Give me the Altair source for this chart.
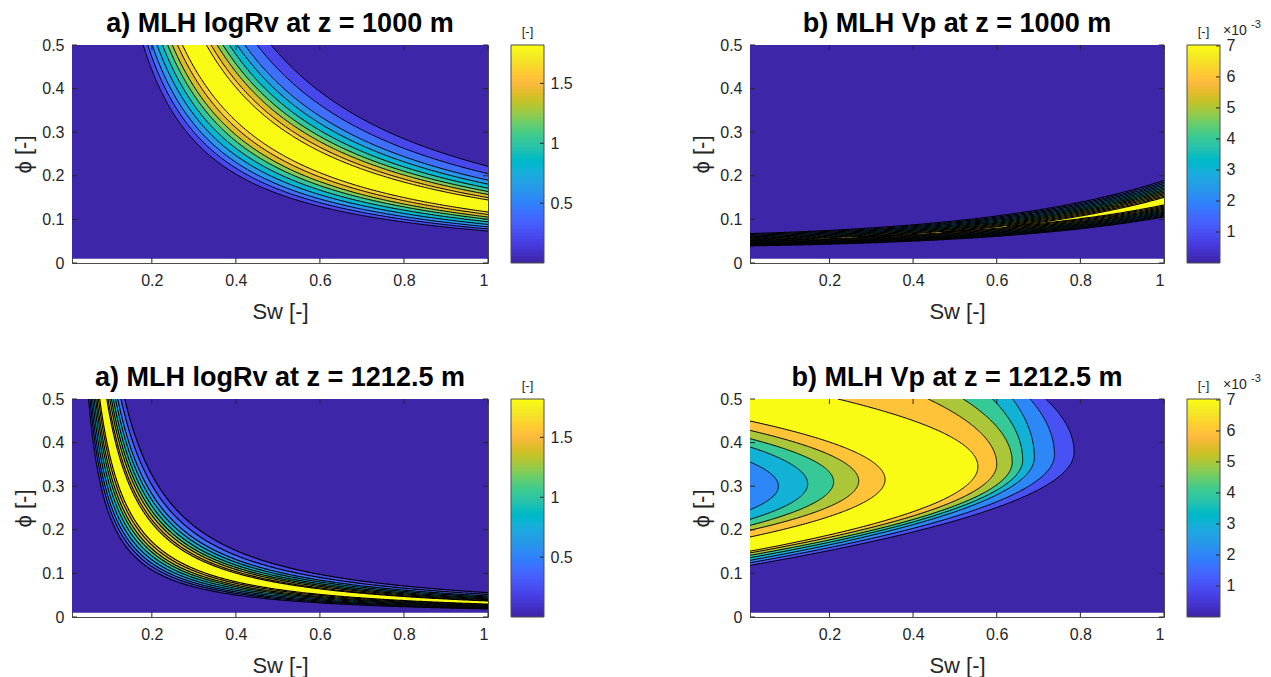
import numpy as np
import pandas as pd
import altair as alt

FONT = "Liberation Sans"
INK = "#262626"
FRAME = "#4d4d4d"

# MATLAB parula (64 entries)
PARULA = [
    (0.2422, 0.1504, 0.6603), (0.2504, 0.1650, 0.7076), (0.2578, 0.1818, 0.7511), (0.2647, 0.1978, 0.7952),
    (0.2706, 0.2147, 0.8364), (0.2751, 0.2342, 0.8710), (0.2783, 0.2559, 0.8991), (0.2803, 0.2782, 0.9221),
    (0.2813, 0.3006, 0.9414), (0.2810, 0.3228, 0.9579), (0.2795, 0.3447, 0.9717), (0.2760, 0.3667, 0.9829),
    (0.2699, 0.3892, 0.9906), (0.2602, 0.4123, 0.9952), (0.2440, 0.4358, 0.9988), (0.2206, 0.4603, 0.9973),
    (0.1963, 0.4847, 0.9892), (0.1834, 0.5074, 0.9798), (0.1786, 0.5289, 0.9682), (0.1764, 0.5499, 0.9520),
    (0.1687, 0.5703, 0.9359), (0.1540, 0.5902, 0.9218), (0.1460, 0.6091, 0.9079), (0.1380, 0.6276, 0.8973),
    (0.1248, 0.6459, 0.8883), (0.1113, 0.6635, 0.8763), (0.0952, 0.6798, 0.8598), (0.0689, 0.6948, 0.8394),
    (0.0297, 0.7082, 0.8163), (0.0036, 0.7203, 0.7917), (0.0067, 0.7312, 0.7660), (0.0433, 0.7411, 0.7394),
    (0.0964, 0.7500, 0.7120), (0.1408, 0.7584, 0.6842), (0.1717, 0.7670, 0.6554), (0.1938, 0.7758, 0.6251),
    (0.2161, 0.7843, 0.5923), (0.2470, 0.7918, 0.5567), (0.2906, 0.7973, 0.5188), (0.3406, 0.8008, 0.4789),
    (0.3909, 0.8029, 0.4354), (0.4456, 0.8024, 0.3909), (0.5044, 0.7993, 0.3480), (0.5616, 0.7942, 0.3045),
    (0.6174, 0.7876, 0.2612), (0.6720, 0.7793, 0.2227), (0.7242, 0.7698, 0.1910), (0.7738, 0.7598, 0.1646),
    (0.8203, 0.7498, 0.1535), (0.8634, 0.7406, 0.1596), (0.9035, 0.7330, 0.1774), (0.9393, 0.7288, 0.2100),
    (0.9728, 0.7298, 0.2394), (0.9956, 0.7434, 0.2371), (0.9970, 0.7659, 0.2199), (0.9952, 0.7893, 0.2028),
    (0.9892, 0.8136, 0.1885), (0.9786, 0.8386, 0.1766), (0.9676, 0.8639, 0.1643), (0.9610, 0.8890, 0.1537),
    (0.9597, 0.9135, 0.1423), (0.9628, 0.9373, 0.1265), (0.9691, 0.9606, 0.1064), (0.9769, 0.9839, 0.0805),
]
CMAP = ['#%02x%02x%02x' % tuple(int(round(v * 255)) for v in c) for c in PARULA]


def level_color(L, cmax):
    return CMAP[min(63, max(0, int(np.floor(L / cmax * 64 + 1e-9))))]


# ---------------- values ----------------
SW_RANGE = [0.01, 1.0]          # Sw extent of the grid
PHI_RANGE = [0.01, 0.5]         # phi extent of the grid
PHI_AXIS = [0.0, 0.5]
SW_TICKS = [0.2, 0.4, 0.6, 0.8, 1.0]
PHI_TICKS = [0, 0.1, 0.2, 0.3, 0.4, 0.5]

TITLES = ["a) MLH logRv at z = 1000 m", "b) MLH Vp at z = 1000 m",
          "a) MLH logRv at z = 1212.5 m", "b) MLH Vp at z = 1212.5 m"]

LOGRV_LEVELS = [0.2, 0.4, 0.6, 0.8, 1.0, 1.2, 1.4, 1.6, 1.8]
LOGRV_CMAX = 1.82
LOGRV_CBAR_TICKS = [0.5, 1.0, 1.5]
VP_LEVELS = [1, 2, 3, 4, 5, 6, 7]          # x 1e-3
VP_DENSE_LEVELS = [1, 1.5, 2, 2.5, 3, 3.5, 4, 4.5, 5, 5.5, 6, 6.5, 7]
VP_CMAX = 7.03
VP_CBAR_TICKS = [1, 2, 3, 4, 5, 6, 7]

# a) logRv z=1000: ridge centre, contour offsets (in ln phi) below / above the ridge, per level
A_RIDGE_SW = [0.30, 1.0]
A_RIDGE_PHI = [0.50, 0.13]
A_OFF_LO = [-0.575, -0.51, -0.45, -0.385, -0.32, -0.26, -0.21, -0.155, -0.106]
A_OFF_HI = [0.535, 0.455, 0.38, 0.33, 0.278, 0.232, 0.19, 0.143, 0.106]

# a) logRv z=1212.5
C_RIDGE_SW = [0.084, 1.0]
C_RIDGE_PHI = [0.50, 0.033]
C_OFF_LO = [-0.58, -0.51, -0.45, -0.385, -0.32, -0.26, -0.21, -0.155, -0.11]
C_OFF_HI = [0.525, 0.45, 0.38, 0.33, 0.278, 0.232, 0.19, 0.143, 0.11]

# b) Vp z=1000: ridge centre, peak value along the ridge, half width (ln phi)
B_RIDGE_SW = [0.01, 0.2, 0.4, 0.6, 0.8, 1.0]
B_RIDGE_PHI = [0.0515, 0.0566, 0.067, 0.081, 0.104, 0.142]
B_PEAK_SW = [0.01, 0.5, 1.0]
B_PEAK = [5.6, 6.6, 8.6]
B_HALF = 0.33

# b) Vp z=1212.5: C-shaped contours (tip position, left-edge / top-edge crossings)
D_OUT_LEVEL = [1, 2, 3, 4, 5, 6, 7]
D_OUT_TIP_SW = [0.785, 0.738, 0.69, 0.662, 0.637, 0.60, 0.555]
D_OUT_TIP_PHI = [0.378, 0.372, 0.366, 0.36, 0.355, 0.35, 0.345]
D_OUT_LEFT_PHI = [0.1185, 0.1245, 0.130, 0.136, 0.1415, 0.147, 0.151]
D_OUT_TOP_SW = [0.717, 0.68, 0.638, 0.59, 0.52, 0.436, 0.22]
D_IN_LEVEL = [7, 6, 5, 4, 3]
D_IN_TIP_SW = [0.333, 0.27, 0.21, 0.148, 0.078]
D_IN_TIP_PHI = [0.315, 0.312, 0.31, 0.305, 0.30]
D_IN_LEFT_LO = [0.1835, 0.199, 0.21, 0.224, 0.246]
D_IN_LEFT_HI = [0.4495, 0.428, 0.409, 0.39, 0.3555]

W_L, W_R, H = 416, 414, 218
CB_GAP, CB_W = 23, 33

SW = np.unique(np.round(np.concatenate([np.geomspace(SW_RANGE[0], SW_RANGE[1], 450),
                                        np.linspace(SW_RANGE[0], SW_RANGE[1], 200)]), 6))


def clipphi(v):
    return np.clip(v, PHI_RANGE[0], PHI_RANGE[1])


# ---------------- derived tables ----------------
def ridge_tables(rsw, rphi, off_lo, off_hi, levels, cmax):
    k, c = np.polyfit(np.log(rsw), np.log(rphi), 1)
    base = c + k * np.log(SW)
    areas, lines = [], []
    for i, L in enumerate(levels):
        lo = np.exp(base + off_lo[i])
        hi = np.exp(base + off_hi[i])
        areas.append(pd.DataFrame({"sw": SW, "lo": clipphi(lo), "hi": clipphi(hi),
                                   "lvl": i, "col": level_color(L, cmax)}))
        for j, curve in enumerate([lo, hi]):
            m = curve < 0.56
            lines.append(pd.DataFrame({"sw": SW[m], "phi": curve[m], "lid": 2 * i + j,
                                       "seq": np.arange(m.sum())}))
    return pd.concat(areas).round(5), pd.concat(lines).round(5)


def bvp_tables():
    ridge = np.polyval(np.polyfit(B_RIDGE_SW, np.log(B_RIDGE_PHI), 2), SW)
    peak = np.polyval(np.polyfit(B_PEAK_SW, B_PEAK, 2), SW)
    areas, lines = [], []
    for i, L in enumerate(VP_DENSE_LEVELS):
        m = peak > L
        d = B_HALF * (1 - L / peak[m])
        lo = np.exp(ridge[m] - d)
        hi = np.exp(ridge[m] + d)
        areas.append(pd.DataFrame({"sw": SW[m], "lo": clipphi(lo), "hi": clipphi(hi),
                                   "lvl": i, "col": level_color(L, VP_CMAX)}))
        for j, curve in enumerate([lo, hi]):
            lines.append(pd.DataFrame({"sw": SW[m], "phi": curve, "lid": 2 * i + j,
                                       "seq": np.arange(m.sum())}))
    return pd.concat(areas).round(5), pd.concat(lines).round(5)


def c_curve(tip_sw, tip_phi, lo_end, hi_end, a_dn, a_up):
    ph = np.unique(np.concatenate([np.linspace(lo_end, hi_end, 260), [tip_phi]]))
    a = np.where(ph < tip_phi, a_dn, a_up)
    sw = tip_sw - a * (ph - tip_phi) ** 2
    return ph, np.maximum(sw, SW_RANGE[0])


def dvp_tables():
    areas, lines = [], []
    ordn = 0
    x0 = SW_RANGE[0]
    for i, L in enumerate(D_OUT_LEVEL):
        ts, tp = D_OUT_TIP_SW[i], D_OUT_TIP_PHI[i]
        a_dn = (ts - x0) / (tp - D_OUT_LEFT_PHI[i]) ** 2
        a_up = (ts - D_OUT_TOP_SW[i]) / (PHI_RANGE[1] - tp) ** 2
        ph, sw = c_curve(ts, tp, D_OUT_LEFT_PHI[i], PHI_RANGE[1], a_dn, a_up)
        areas.append(pd.DataFrame({"sw": sw, "phi": ph, "x0": x0, "lvl": ordn,
                                   "col": level_color(L, VP_CMAX)}))
        lines.append(pd.DataFrame({"sw": sw, "phi": ph, "lid": ordn, "seq": np.arange(len(ph))}))
        ordn += 1
    for i, L in enumerate(D_IN_LEVEL):
        ts, tp = D_IN_TIP_SW[i], D_IN_TIP_PHI[i]
        a_dn = (ts - x0) / (tp - D_IN_LEFT_LO[i]) ** 2
        a_up = (ts - x0) / (D_IN_LEFT_HI[i] - tp) ** 2
        ph, sw = c_curve(ts, tp, D_IN_LEFT_LO[i], D_IN_LEFT_HI[i], a_dn, a_up)
        areas.append(pd.DataFrame({"sw": sw, "phi": ph, "x0": x0, "lvl": ordn,
                                   "col": level_color(L - 1, VP_CMAX)}))
        lines.append(pd.DataFrame({"sw": sw, "phi": ph, "lid": ordn, "seq": np.arange(len(ph))}))
        ordn += 1
    return pd.concat(areas).round(5), pd.concat(lines).round(5)


# ---------------- chart pieces ----------------
XSCALE = alt.Scale(domain=SW_RANGE, nice=False, zero=False)
YSCALE = alt.Scale(domain=PHI_AXIS, nice=False, zero=False)
XAXIS = alt.Axis(values=SW_TICKS, format="~g", title="Sw [-]", titleY=48, titleBaseline="middle",
                 labelPadding=9, ticks=False, domain=False, grid=False)
YAXIS = alt.Axis(values=PHI_TICKS, format="~g", title="ϕ [-]", titleX=-49, titleY=H / 2,
                 titleAngle=270, titleAlign="center", titleBaseline="middle",
                 labelPadding=8, ticks=False, domain=False, grid=False)
ONE = pd.DataFrame({"a": [0]})


def X(f, **kw):
    return alt.X(f, type="quantitative", scale=XSCALE, axis=XAXIS, **kw)


def Y(f, **kw):
    return alt.Y(f, type="quantitative", scale=YSCALE, axis=YAXIS, **kw)


def frame_layers(W, title):
    bg = alt.Chart(pd.DataFrame({"s0": [SW_RANGE[0]], "s1": [SW_RANGE[1]],
                                 "p0": [PHI_RANGE[0]], "p1": [PHI_RANGE[1]]})).mark_rect(
        color=CMAP[0]).encode(x=X("s0"), x2="s1", y=Y("p0"), y2="p1")
    xt = pd.DataFrame({"t": SW_TICKS})
    yt = pd.DataFrame({"t": PHI_TICKS})
    tk = dict(color=INK, strokeWidth=1)
    ticks = [
        alt.Chart(xt).mark_rule(**tk).encode(x=X("t"), y=alt.value(H), y2=alt.value(H - 5)),
        alt.Chart(xt).mark_rule(**tk).encode(x=X("t"), y=alt.value(0), y2=alt.value(5)),
        alt.Chart(yt).mark_rule(**tk).encode(y=Y("t"), x=alt.value(0), x2=alt.value(5)),
        alt.Chart(yt).mark_rule(**tk).encode(y=Y("t"), x=alt.value(W - 5), x2=alt.value(W)),
    ]
    ttl = alt.Chart(ONE).mark_text(text=title, font=FONT, fontSize=27, fontWeight="bold",
                                   color="black", align="center", baseline="middle").encode(
        x=alt.value(W / 2), y=alt.value(-21))
    return bg, ticks + [ttl]


def colorbar_layer(W, cmax, ticks, exponent):
    n = len(CMAP)
    df = pd.DataFrame({"v0": [i / n * cmax for i in range(n)], "v1": [cmax] * n, "col": CMAP})
    ys = alt.Scale(domain=[0, cmax], nice=False, zero=False)
    ax = alt.Axis(orient="right", values=ticks, format="~g", labelPadding=6, ticks=False,
                  domain=False, grid=False, title=None, offset=CB_GAP + CB_W)
    x0, x1 = W + CB_GAP, W + CB_GAP + CB_W
    bar = alt.Chart(df).mark_rect().encode(
        y=alt.Y("v0:Q", scale=ys, axis=ax), y2="v1", x=alt.value(x0), x2=alt.value(x1),
        color=alt.Color("col:N", scale=None))
    tk = alt.Chart(pd.DataFrame({"t": ticks})).mark_rule(color=INK).encode(
        y=alt.Y("t:Q", scale=ys, axis=ax), x=alt.value(x1 - 4), x2=alt.value(x1))
    box = alt.Chart(ONE).mark_rect(filled=False, stroke=FRAME, strokeWidth=1).encode(
        x=alt.value(x0), x2=alt.value(x1), y=alt.value(0), y2=alt.value(H))
    lab = alt.Chart(ONE).mark_text(text="[-]", font=FONT, fontSize=13, color=INK,
                                   align="center", baseline="middle").encode(
        x=alt.value((x0 + x1) / 2), y=alt.value(-13))
    layers = [bar, tk, box, lab]
    if exponent:
        layers.append(alt.Chart(ONE).mark_text(text="×10", font=FONT, fontSize=14, color=INK,
                                               align="left", baseline="middle").encode(
            x=alt.value(x1 + 3), y=alt.value(-14)))
        layers.append(alt.Chart(ONE).mark_text(text="-3", font=FONT, fontSize=11, color=INK,
                                               align="left", baseline="middle").encode(
            x=alt.value(x1 + 31), y=alt.value(-20)))
    return alt.layer(*layers)


def finish(W, title, core, cmax, cticks, exponent, anchor):
    bg, extra = frame_layers(W, title)
    layers = [bg] + core + extra
    if anchor:
        layers.append(alt.Chart(ONE).mark_rule(strokeOpacity=0).encode(
            x=alt.value(-71), x2=alt.value(-70), y=alt.value(-44), y2=alt.value(-43)))
    main = alt.layer(*layers)
    return alt.layer(main, colorbar_layer(W, cmax, cticks, exponent)).resolve_scale(
        y="independent").properties(width=W, height=H)


def ridge_core(areas, lines, lw):
    ar = alt.Chart(areas).mark_area(clip=True).encode(
        x=X("sw"), y=Y("lo", stack=None), y2="hi",
        color=alt.Color("col:N", scale=None), detail="lvl:N")
    ln = alt.Chart(lines).mark_line(clip=True, color="black", strokeWidth=lw).encode(
        x=X("sw"), y=Y("phi"), detail="lid:N", order="seq:Q")
    return [ar, ln]


def c_core(areas, lines, lw):
    ar = alt.Chart(areas).mark_area(clip=True, orient="horizontal").encode(
        x=X("sw", stack=None), x2="x0", y=Y("phi"),
        color=alt.Color("col:N", scale=None), detail="lvl:N")
    ln = alt.Chart(lines).mark_line(clip=True, color="black", strokeWidth=lw).encode(
        x=X("sw"), y=Y("phi"), detail="lid:N", order="seq:Q")
    return [ar, ln]


a_areas, a_lines = ridge_tables(A_RIDGE_SW, A_RIDGE_PHI, A_OFF_LO, A_OFF_HI, LOGRV_LEVELS, LOGRV_CMAX)
c_areas, c_lines = ridge_tables(C_RIDGE_SW, C_RIDGE_PHI, C_OFF_LO, C_OFF_HI, LOGRV_LEVELS, LOGRV_CMAX)
b_areas, b_lines = bvp_tables()
d_areas, d_lines = dvp_tables()

pA = finish(W_L, TITLES[0], ridge_core(a_areas, a_lines, 1.0), LOGRV_CMAX, LOGRV_CBAR_TICKS, False, True)
pB = finish(W_R, TITLES[1], ridge_core(b_areas, b_lines, 1.1), VP_CMAX, VP_CBAR_TICKS, True, False)
pC = finish(W_L, TITLES[2], ridge_core(c_areas, c_lines, 1.15), LOGRV_CMAX, LOGRV_CBAR_TICKS, False, False)
pD = finish(W_R, TITLES[3], c_core(d_areas, d_lines, 1.0), VP_CMAX, VP_CBAR_TICKS, True, False)

chart = alt.concat(pA, pB, pC, pD, columns=2, spacing={"row": 136, "column": 262},
                   bounds="flush", align="each").properties(
    padding={"left": 0, "top": 0, "right": 0, "bottom": 0}, background="white"
).configure_view(stroke=FRAME, strokeWidth=1).configure_axis(
    labelFont=FONT, labelFontSize=16, labelColor=INK,
    titleFont=FONT, titleFontSize=22, titleColor=INK, titleFontWeight="normal"
)

chart.save("out.html", embed_options={"renderer": "svg", "actions": False})
